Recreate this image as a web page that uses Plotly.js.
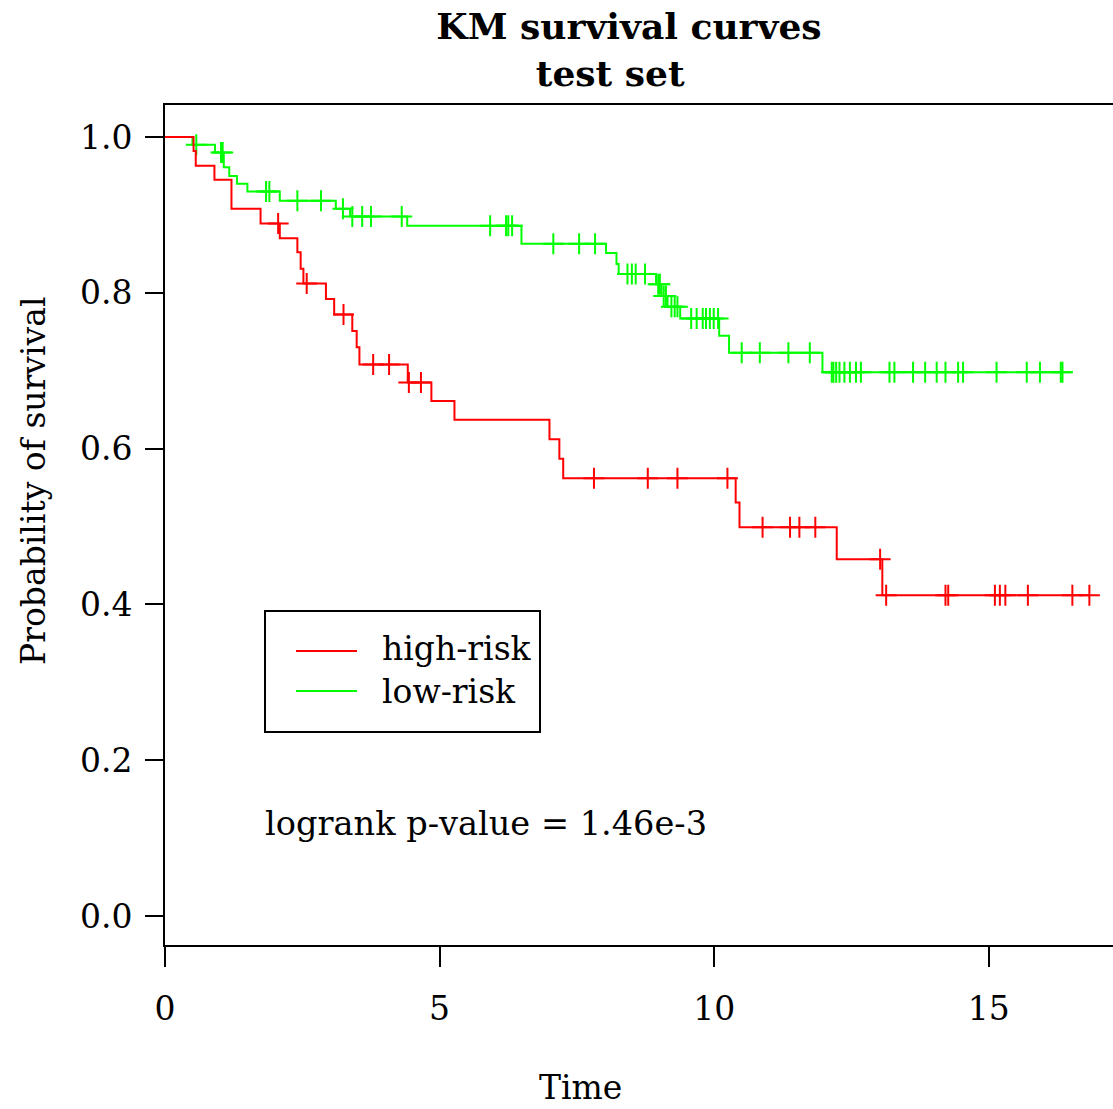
<!DOCTYPE html>
<html>
<head>
<meta charset="utf-8">
<script src="https://cdn.plot.ly/plotly-3.0.1.min.js"></script>
<style>
  html, body { margin: 0; padding: 0; background: #ffffff; }
  #chart { width: 1113px; height: 1109px; }
</style>
</head>
<body>
<div id="chart"></div>
<script>
// Kaplan-Meier estimates for the two risk groups of the test set.
// Event times and the survival probability right after each event.
const highEventTimes = [0.52, 0.56, 0.90, 1.21, 1.74, 2.09, 2.41, 2.47, 2.52, 2.93, 3.08, 3.41, 3.49, 3.54,
  4.42, 4.85, 5.27, 7.00, 7.18, 7.25, 10.39, 10.46, 12.23, 13.06];
const highSurvival = [0.982, 0.963, 0.945, 0.908, 0.889, 0.870, 0.852, 0.831, 0.812, 0.792, 0.772, 0.751, 0.730, 0.708,
  0.685, 0.661, 0.637, 0.612, 0.587, 0.562, 0.531, 0.499, 0.458, 0.412];
const highCensorTimes = [2.06, 2.58, 3.25, 3.79, 4.08, 4.44, 4.66, 7.81, 8.79, 9.33, 10.24, 10.88, 11.38, 11.55,
  11.84, 13.02, 13.13, 14.21, 14.26, 15.11, 15.20, 15.30, 15.71, 16.52, 16.83];

const lowEventTimes = [0.50, 0.91, 1.07, 1.17, 1.31, 1.50, 2.09, 3.11, 3.37, 4.41, 6.49, 8.03, 8.22, 8.26,
  8.94, 9.04, 9.15, 9.38, 10.09, 10.27, 11.97];
const lowSurvival = [0.990, 0.980, 0.961, 0.950, 0.940, 0.930, 0.918, 0.908, 0.898, 0.886, 0.863, 0.851, 0.837, 0.824,
  0.811, 0.796, 0.782, 0.767, 0.745, 0.723, 0.698];
const lowCensorTimes = [0.57, 1.02, 1.05, 1.84, 1.90, 2.41, 2.84, 3.24, 3.41, 3.59, 3.75, 4.31, 5.92, 6.21, 6.25,
  6.32, 7.07, 7.54, 7.83, 8.42, 8.50, 8.57, 8.74, 8.98, 9.01, 9.08, 9.12, 9.22, 9.28, 9.33, 9.58, 9.68, 9.79,
  9.85, 9.92, 9.99, 10.07, 10.50, 10.83, 11.35, 11.74, 12.14, 12.17, 12.22, 12.28, 12.37, 12.47, 12.58, 12.67,
  13.19, 13.28, 13.62, 13.84, 14.05, 14.21, 14.44, 14.53, 15.14, 15.69, 15.93, 16.31, 16.34];

const groupNames = ['high-risk', 'low-risk'];
const groupColors = ['#ff0000', '#00ff00'];
const xTicks = [0, 5, 10, 15];
const yTicks = [0, 0.2, 0.4, 0.6, 0.8, 1.0];
const pValueText = 'logrank p-value = 1.46e-3';

const FONT = 'DejaVu Serif';

// survival probability at time t (right-continuous step function)
function survivalAt(times, surv, t) {
  let s = 1;
  for (let i = 0; i < times.length; i++) if (times[i] <= t) s = surv[i];
  return s;
}

function curveTraces(times, surv, censor, color, name) {
  const end = Math.max(times[times.length - 1], censor[censor.length - 1]);
  const xs = [0].concat(times, [end]);
  const ys = [1].concat(surv, [surv[surv.length - 1]]);
  const step = {
    x: xs, y: ys, type: 'scatter', mode: 'lines', name: name,
    line: { shape: 'hv', color: color, width: 2 },
    showlegend: false, hoverinfo: 'x+y'
  };
  const marks = {
    x: censor, y: censor.map(t => survivalAt(times, surv, t)),
    type: 'scatter', mode: 'markers', name: name + ' (censored)',
    marker: { symbol: 'cross-thin', size: 15, color: color, line: { color: color, width: 2 } },
    showlegend: false, hoverinfo: 'x+y'
  };
  return [step, marks];
}

const traces = []
  .concat(curveTraces(lowEventTimes, lowSurvival, lowCensorTimes, groupColors[1], groupNames[1]))
  .concat(curveTraces(highEventTimes, highSurvival, highCensorTimes, groupColors[0], groupNames[0]));

// plot region in pixels: left 165, top 105, width 948, height 840
const px = x => (x - 165) / 948;
const py = y => (945 - y) / 840;

const shapes = [
  // legend frame and keys
  { type: 'rect', xref: 'paper', yref: 'paper', x0: px(265), x1: px(540), y0: py(732), y1: py(611),
    line: { color: '#000', width: 2 }, fillcolor: '#fff' },
  { type: 'line', xref: 'paper', yref: 'paper', x0: px(296), x1: px(357), y0: py(651), y1: py(651),
    line: { color: groupColors[0], width: 2 } },
  { type: 'line', xref: 'paper', yref: 'paper', x0: px(296), x1: px(357), y0: py(691), y1: py(691),
    line: { color: groupColors[1], width: 2 } }
];

const txt = { family: FONT, size: 33, color: '#000' };
const annotations = [
  { text: groupNames[0], xref: 'paper', yref: 'paper', x: px(380), y: py(649), xanchor: 'left', yanchor: 'middle',
    showarrow: false, font: txt },
  { text: groupNames[1], xref: 'paper', yref: 'paper', x: px(380), y: py(691), xanchor: 'left', yanchor: 'middle',
    showarrow: false, font: txt },
  { text: pValueText, xref: 'paper', yref: 'paper', x: px(263), y: py(823), xanchor: 'left', yanchor: 'middle',
    showarrow: false, font: { family: FONT, size: 33.6, color: '#000' } },
  { text: 'Time', xref: 'paper', yref: 'paper', x: px(580), y: py(1087), xanchor: 'center', yanchor: 'middle',
    showarrow: false, font: txt },
  { text: 'Probability of survival', xref: 'paper', yref: 'paper', x: px(34), y: py(481), textangle: -90,
    xanchor: 'center', yanchor: 'middle', showarrow: false, font: txt }
];

const layout = {
  width: 1113, height: 1109,
  margin: { l: 165, r: 0, t: 105, b: 164 },
  paper_bgcolor: '#fff', plot_bgcolor: '#fff',
  font: txt,
  title: {
    text: '<b>KM survival curves</b><br><b>test set&nbsp;&nbsp;&nbsp;</b>',
    font: { family: FONT, size: 36, color: '#000' },
    x: 629 / 1113, xref: 'container', xanchor: 'center',
    y: 1 - 39 / 1109, yref: 'container', yanchor: 'middle'
  },
  xaxis: {
    range: [0, 17.26], tickvals: xTicks, ticktext: xTicks.map(String),
    ticks: 'outside', ticklen: 20, tickwidth: 2, tickcolor: '#000',
    showline: true, linewidth: 2, linecolor: '#000', mirror: true,
    showgrid: false, zeroline: false, ticklabelstandoff: 13,
    tickfont: txt
  },
  yaxis: {
    range: [-0.037, 1.041], tickvals: yTicks, ticktext: yTicks.map(v => v.toFixed(1)),
    ticks: 'outside', ticklen: 18, tickwidth: 2, tickcolor: '#000',
    showline: true, linewidth: 2, linecolor: '#000', mirror: false,
    showgrid: false, zeroline: false, ticklabelstandoff: 6,
    tickfont: txt
  },
  shapes: shapes,
  annotations: annotations,
  showlegend: false
};

Plotly.newPlot('chart', traces, layout, { displayModeBar: false, staticPlot: true });
</script>
</body>
</html>
